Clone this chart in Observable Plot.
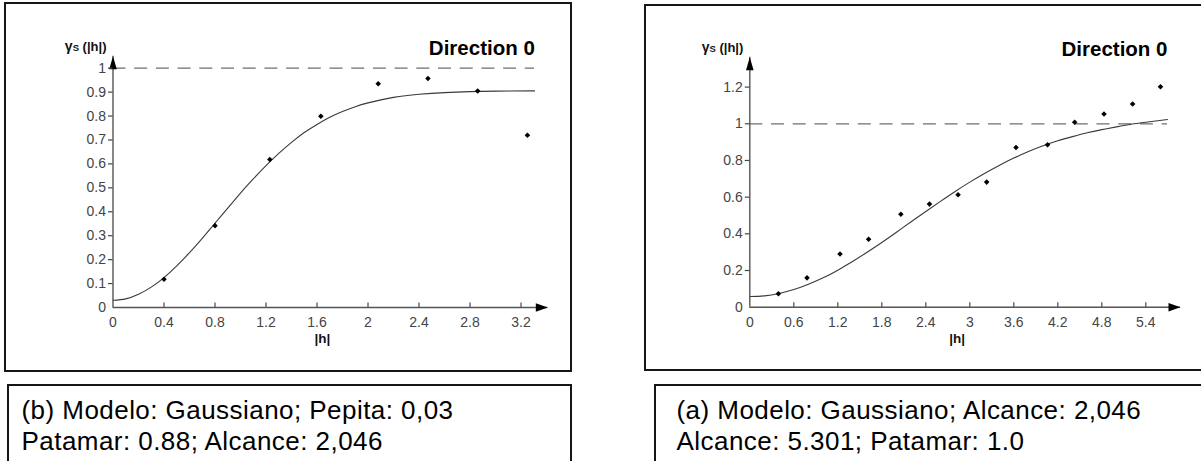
<!DOCTYPE html>
<html>
<head>
<meta charset="utf-8">
<script src="https://cdn.jsdelivr.net/npm/d3@7"></script>
<script src="https://cdn.jsdelivr.net/npm/@observablehq/plot@0.6"></script>
<style>
html, body { margin: 0; padding: 0; background: #fff; }
#page { position: relative; width: 1201px; height: 461px; overflow: hidden; font-family: "Liberation Sans", Arial, sans-serif; }
.box { position: absolute; box-sizing: border-box; border: 2px solid #161616; }
.chart { position: absolute; top: 0; }
.chart svg { overflow: visible; max-width: none; }
.caption { position: absolute; font-size: 26px; line-height: 31px; letter-spacing: 0.45px; color: #000; white-space: nowrap; }
</style>
</head>
<body>
<div id="page">
  <div class="box" style="left:4px; top:2px; width:568px; height:370px;"></div>
  <div class="box" style="left:644px; top:3.5px; width:600px; height:367px;"></div>
  <div class="box" style="left:7px; top:384px; width:565px; height:120px;"></div>
  <div class="box" style="left:654px; top:384px; width:600px; height:120px;"></div>
  <div id="leftChart" class="chart" style="left:0px;"></div>
  <div id="rightChart" class="chart" style="left:600px;"></div>
  <div id="capLeft" class="caption" style="left:21.5px; top:395px;"></div>
  <div id="capRight" class="caption" style="left:676.5px; top:395px;"></div>
</div>
<script>
// ---------- data ----------
// Panel (b): experimental semivariogram points
const leftLag   = [0.4, 0.8, 1.23, 1.63, 2.08, 2.47, 2.86, 3.25];
const leftGamma = [0.118, 0.342, 0.618, 0.799, 0.935, 0.957, 0.905, 0.72];
// Panel (b): fitted model curve
const leftModelLag   = [0, 0.1, 0.2, 0.3, 0.4, 0.5, 0.6, 0.7, 0.8, 0.9, 1.0, 1.1, 1.2, 1.3, 1.4, 1.5, 1.6, 1.7, 1.8, 1.9, 2.0, 2.2, 2.4, 2.6, 2.8, 3.0, 3.306];
const leftModelGamma = [0.030, 0.036, 0.055, 0.085, 0.125, 0.174, 0.229, 0.289, 0.352, 0.415, 0.478, 0.537, 0.593, 0.644, 0.690, 0.731, 0.765, 0.795, 0.819, 0.839, 0.855, 0.878, 0.891, 0.898, 0.902, 0.904, 0.905];
const leftSill = 1;
const leftXTicks = [0, 0.4, 0.8, 1.2, 1.6, 2, 2.4, 2.8, 3.2];
const leftXLabels = ["0", "0.4", "0.8", "1.2", "1.6", "2", "2.4", "2.8", "3.2"];
const leftYTicks = [0, 0.1, 0.2, 0.3, 0.4, 0.5, 0.6, 0.7, 0.8, 0.9, 1];
const leftYLabels = ["0", "0.1", "0.2", "0.3", "0.4", "0.5", "0.6", "0.7", "0.8", "0.9", "1"];

// Panel (a): experimental semivariogram points
const rightLag   = [0.39, 0.78, 1.23, 1.62, 2.06, 2.45, 2.84, 3.23, 3.63, 4.06, 4.43, 4.83, 5.22, 5.6];
const rightGamma = [0.073, 0.16, 0.29, 0.37, 0.507, 0.562, 0.613, 0.682, 0.871, 0.886, 1.008, 1.053, 1.108, 1.202];
// Panel (a): fitted model curve
const rightModelLag   = [0, 0.2, 0.4, 0.6, 0.8, 1.0, 1.2, 1.4, 1.6, 1.8, 2.0, 2.2, 2.4, 2.6, 2.8, 3.0, 3.2, 3.4, 3.6, 3.8, 4.0, 4.2, 4.4, 4.6, 4.8, 5.0, 5.2, 5.4, 5.696];
const rightModelGamma = [0.058, 0.062, 0.075, 0.096, 0.125, 0.160, 0.202, 0.249, 0.300, 0.353, 0.409, 0.466, 0.522, 0.577, 0.631, 0.682, 0.729, 0.773, 0.813, 0.849, 0.880, 0.907, 0.930, 0.951, 0.968, 0.983, 0.997, 1.008, 1.023];
const rightSill = 1;
const rightXTicks = [0, 0.6, 1.2, 1.8, 2.4, 3, 3.6, 4.2, 4.8, 5.4];
const rightXLabels = ["0", "0.6", "1.2", "1.8", "2.4", "3", "3.6", "4.2", "4.8", "5.4"];
const rightYTicks = [0, 0.2, 0.4, 0.6, 0.8, 1, 1.2];
const rightYLabels = ["0", "0.2", "0.4", "0.6", "0.8", "1", "1.2"];

const directionTitle = "Direction 0";
const yAxisTitle = "γS (|h|)";
const xAxisTitle = "|h|";
const captionLeft  = ["(b) Modelo: Gaussiano; Pepita: 0,03", "Patamar: 0.88; Alcance: 2,046"];
const captionRight = ["(a) Modelo: Gaussiano; Alcance: 2,046", "Alcance: 5.301; Patamar: 1.0"];

// ---------- custom marker shapes ----------
const arrowRight = { draw(ctx) { ctx.moveTo(0, 0); ctx.lineTo(-12, -4.2); ctx.lineTo(-12, 4.2); ctx.closePath(); } };
const arrowUp    = { draw(ctx) { ctx.moveTo(0, 0); ctx.lineTo(-3.8, 13); ctx.lineTo(3.8, 13); ctx.closePath(); } };
const tickUp     = { draw(ctx) { ctx.moveTo(0, 0); ctx.lineTo(0, -5); } };

function chart(o) {
  const pts = o.lag.map((x, i) => ({x, y: o.gamma[i]}));
  const model = o.mLag.map((x, i) => ({x, y: o.mGamma[i]}));
  const fmtX = d => o.xLabels[o.xTicks.indexOf(d)];
  const fmtY = d => o.yLabels[o.yTicks.indexOf(d)];
  const lineEnd = o.mLag[o.mLag.length - 1];
  return Plot.plot({
    width: o.width, height: 380,
    marginLeft: o.ml, marginRight: o.mr, marginTop: o.mt, marginBottom: o.mb,
    x: {domain: [0, o.xMax], label: null},
    y: {domain: [0, o.yMax], label: null},
    style: {background: "transparent", overflow: "visible", fontFamily: "'Liberation Sans', Arial, sans-serif", fontSize: "14px"},
    marks: [
      Plot.ruleY([o.sill], {x1: 0, x2: lineEnd, stroke: "#6e6e6e", strokeWidth: 1.3, strokeDasharray: "13,8.7"}),
      Plot.line(model, {x: "x", y: "y", curve: "natural", stroke: "#3a3a3a", strokeWidth: 1.1}),
      Plot.ruleY([0], {x1: 0, x2: o.xMax, stroke: "#555", strokeWidth: 1.4}),
      Plot.ruleX([0], {y1: 0, y2: o.yMax, stroke: "#555", strokeWidth: 1.4}),
      Plot.dot(o.xTicks.filter(d => d > 0), {x: d => d, y: () => 0, symbol: tickUp, stroke: "#555", strokeWidth: 1.3, fill: "none"}),
      Plot.dot([o.xMax], {x: d => d, y: () => 0, symbol: arrowRight, fill: "#000", stroke: "none"}),
      Plot.dot([o.yMax], {x: () => 0, y: d => d, symbol: arrowUp, fill: "#000", stroke: "none"}),
      Plot.axisY({ticks: o.yTicks.filter(d => d > 0), tickSize: 4.5, tickPadding: 2.5, tickFormat: fmtY, label: null, color: "#444", strokeWidth: 1.2}),
      Plot.axisY({ticks: [0], tickSize: 0, tickPadding: 7, tickFormat: fmtY, label: null, color: "#444"}),
      Plot.axisX({ticks: o.xTicks, tickSize: 0, tickPadding: 10, tickFormat: fmtX, label: null, color: "#444"}),
      Plot.dot(pts, {x: "x", y: "y", symbol: "diamond2", r: 2.5, fill: "#000", stroke: "none"}),
      Plot.text([directionTitle], {frameAnchor: "top-right", textAnchor: "end", lineAnchor: "middle", dx: -13, dy: -7.5, fontSize: 20.5, fontWeight: "bold", fill: "#000"}),
      Plot.text([yAxisTitle], {frameAnchor: "top-left", textAnchor: "end", lineAnchor: "middle", dx: -6.5, dy: -9, fontSize: 13, fontWeight: "bold", fill: "#111"}),
      Plot.text([xAxisTitle], {frameAnchor: "bottom", textAnchor: "middle", lineAnchor: "middle", dx: -8, dy: 31.5, fontSize: 13.5, fontWeight: "bold", fill: "#111"})
    ]
  });
}

function styleYTitle(svg) {
  svg.querySelectorAll("text").forEach(t => {
    if (t.textContent === yAxisTitle) {
      const target = t.querySelector("tspan") || t;
      target.textContent = "";
      const ns = "http://www.w3.org/2000/svg";
      const parts = [["γ", "14px"], ["S", "9.5px"], [yAxisTitle.slice(2), "13px"]];
      for (const [s, fs] of parts) {
        const sp = document.createElementNS(ns, "tspan");
        sp.setAttribute("font-size", fs);
        sp.textContent = s;
        target.appendChild(sp);
      }
    }
  });
}

const left = chart({
  width: 600, ml: 112.5, mr: 52.7, mt: 55.7, mb: 73,
  xMax: 3.41, yMax: 1.05,
  lag: leftLag, gamma: leftGamma, mLag: leftModelLag, mGamma: leftModelGamma, sill: leftSill,
  xTicks: leftXTicks, xLabels: leftXLabels, yTicks: leftYTicks, yLabels: leftYLabels
});
const right = chart({
  width: 601, ml: 149.3, mr: 21, mt: 56.7, mb: 73.3,
  xMax: 5.873, yMax: 1.363,
  lag: rightLag, gamma: rightGamma, mLag: rightModelLag, mGamma: rightModelGamma, sill: rightSill,
  xTicks: rightXTicks, xLabels: rightXLabels, yTicks: rightYTicks, yLabels: rightYLabels
});
styleYTitle(left); styleYTitle(right);
document.getElementById("leftChart").appendChild(left);
document.getElementById("rightChart").appendChild(right);
document.getElementById("capLeft").innerHTML = captionLeft.join("<br>");
document.getElementById("capRight").innerHTML = captionRight.join("<br>");
</script>
</body>
</html>
